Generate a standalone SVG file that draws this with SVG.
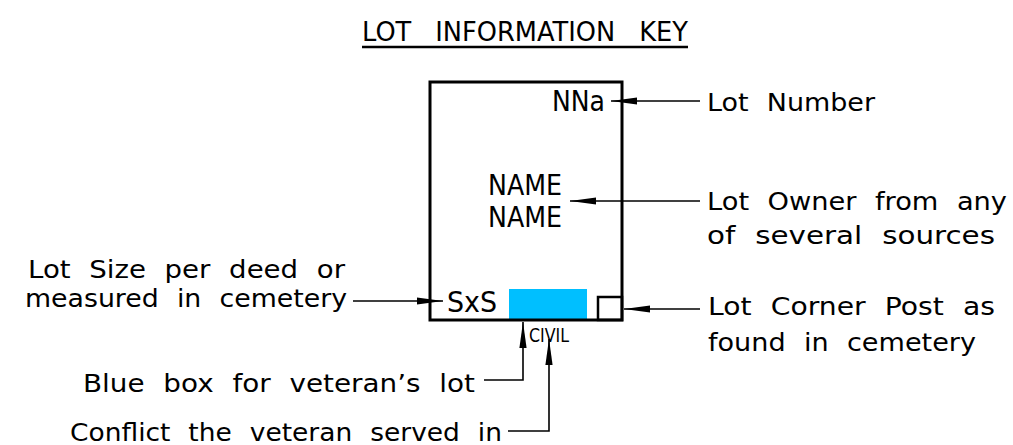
<svg xmlns="http://www.w3.org/2000/svg" width="1013" height="445" viewBox="0 0 1013 445">
  <style>
    .t { font-family: "DejaVu Sans", "Liberation Sans", sans-serif; fill: #000; }
    .lbl { font-size: 25px; word-spacing: 9px; }
    .in { font-size: 28px; }
    .ln { fill: none; stroke: #000; stroke-width: 1.6; }
  </style>
  <defs>
    <marker id="ah" markerUnits="userSpaceOnUse" viewBox="0 -4 26 8" refX="26" refY="0" markerWidth="26" markerHeight="8" orient="auto">
      <path d="M0,-3.6 L26,0 L0,3.6 Z" fill="#000"/>
    </marker>
  </defs>
  <rect width="1013" height="445" fill="#fff"/>

  <g id="title">
    <text class="t" x="362" y="41" font-size="26" style="word-spacing:16px" textLength="326" lengthAdjust="spacingAndGlyphs">LOT INFORMATION KEY</text>
    <line x1="362" y1="47" x2="688" y2="47" stroke="#000" stroke-width="2.5"/>
  </g>

  <g id="lot-box">
    <rect x="509" y="289" width="78" height="31" fill="#00bfff"/>
    <rect x="430" y="82" width="192" height="238" fill="none" stroke="#000" stroke-width="3"/>
    <rect x="598" y="297" width="24" height="23" fill="none" stroke="#000" stroke-width="2.5"/>
    <text class="t in" x="552" y="111" textLength="53" lengthAdjust="spacingAndGlyphs">NNa</text>
    <text class="t in" x="488" y="195" textLength="74" lengthAdjust="spacingAndGlyphs">NAME</text>
    <text class="t in" x="488" y="227" textLength="74" lengthAdjust="spacingAndGlyphs">NAME</text>
    <text class="t in" x="447" y="312" textLength="50" lengthAdjust="spacingAndGlyphs">SxS</text>
    <text class="t" x="529" y="342" font-size="20" textLength="40" lengthAdjust="spacingAndGlyphs">CIVIL</text>
  </g>

  <g id="label-lot-number">
    <text class="t lbl" x="707" y="111" textLength="168" lengthAdjust="spacingAndGlyphs">Lot Number</text>
  </g>
  <g id="label-lot-owner">
    <text class="t lbl" x="707" y="210" textLength="300" lengthAdjust="spacingAndGlyphs">Lot Owner from any</text>
    <text class="t lbl" x="707" y="244" textLength="288" lengthAdjust="spacingAndGlyphs">of several sources</text>
  </g>
  <g id="label-corner-post">
    <text class="t lbl" x="708" y="315" textLength="287" lengthAdjust="spacingAndGlyphs">Lot Corner Post as</text>
    <text class="t lbl" x="708" y="351" textLength="268" lengthAdjust="spacingAndGlyphs">found in cemetery</text>
  </g>
  <g id="label-lot-size">
    <text class="t lbl" x="28" y="278" textLength="317" lengthAdjust="spacingAndGlyphs">Lot Size per deed or</text>
    <text class="t lbl" x="25" y="307" textLength="322" lengthAdjust="spacingAndGlyphs">measured in cemetery</text>
  </g>
  <g id="label-blue-box">
    <text class="t lbl" x="83" y="392" textLength="392" lengthAdjust="spacingAndGlyphs">Blue box for veteran’s lot</text>
  </g>
  <g id="label-conflict">
    <text class="t lbl" x="70" y="441" textLength="432" lengthAdjust="spacingAndGlyphs">Conflict the veteran served in</text>
  </g>

  <g id="connectors">
    <path class="ln" d="M700,101 L611,101" marker-end="url(#ah)"/>
    <path class="ln" d="M700,201 L570,201" marker-end="url(#ah)"/>
    <path class="ln" d="M353,301 L443,301" marker-end="url(#ah)"/>
    <path class="ln" d="M700,309 L624,309" marker-end="url(#ah)"/>
    <path class="ln" d="M484,380 L523,380 L523,322" marker-end="url(#ah)"/>
    <path class="ln" d="M508,431 L549,431 L549,339" marker-end="url(#ah)"/>
  </g>
</svg>
